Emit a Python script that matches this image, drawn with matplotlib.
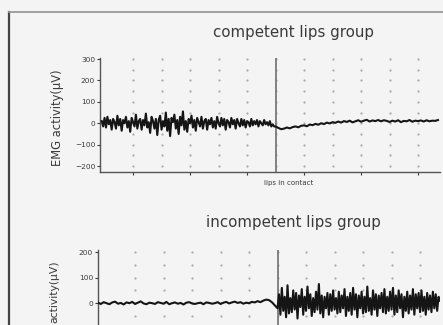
import matplotlib
matplotlib.use('Agg')
import matplotlib.pyplot as plt
from matplotlib.lines import Line2D
import numpy as np

top_pre = [10, -15, 25, -20, 30, -5, 15, -30, 20, 5,
           -25, 35, -10, 20, -35, 15, 0, 30, -20, 10,
           -40, 25, 5, -15, 40, -25, 10, 20, -30, 15,
           -10, 45, -20, 5, -45, 30, 10, -25, 20, -55,
           15, 35, -30, 10, -15, 50, -35, 20, -60, 25,
           5, 40, -25, 15, -50, 30, -10, 55, -30, 10,
           -40, 20, 0, 35, -20, 15, -35, 25, 5, -15,
           30, -25, 10, 20, -30, 15, -5, 25, -20, 10,
           -25, 30, 0, -15, 25, -10, 20, -30, 15, 5,
           -20, 25, -5, 15, -25, 20, 0, -15, 20, -10,
           15, -20, 10, 5, -15, 20, -10, 10, -5, 15,
           -15, 10, 0, -10, 15, -5, 5, -10, 10, -15,
           -5, -15]
top_post = [-15, -22, -28, -25, -20, -24, -18, -15, -19, -12,
            -10, -14, -6, -9, -3, -7, 0, -4, 3, -1,
            5, 2, 8, 3, 10, 6, 12, 4, 9, 14,
            7, 12, 16, 8, 13, 10, 15, 9, 14, 11,
            6, 12, 8, 14, 5, 11, 9, 15, 7, 12,
            10, 13, 8, 14, 9, 12, 11, 15]
bot_pre = [2, -3, 4, 0, -4, 3, 6, -2, 1, -5,
           3, 0, 5, -3, 2, 7, -1, -4, 2, 0,
           -3, 4, 1, -2, 5, -4, 0, 3, -2, 1,
           -5, 2, 4, -1, -3, 0, 2, -4, 3, 1,
           -2, 0, 4, -3, 2, 5, -1, 3, 6, 1,
           4, -2, 2, 0, 5, 3, 8, 4, 10, 14,
           12, 4, -8]
bot_post = [-20, 35, -45, 60, -30, 25, -55, 70, -40, 20,
            -35, 50, -25, 40, -60, 30, -15, 55, -45, 25,
            -30, 65, -20, 35, -50, 20, -35, 45, -25, 75,
            -40, 30, -55, 25, -20, 40, -45, 35, -30, 50,
            -25, 20, -40, 45, -35, 30, -20, 55, -50, 25,
            -30, 40, -45, 60, -25, 35, -55, 30, -20, 45,
            -40, 25, -35, 65, -30, 20, -45, 50, -25, 35,
            -50, 30, -20, 40, -35, 55, -40, 25, -30, 45,
            -25, 60, -45, 30, -35, 50, -20, 35, -55, 25,
            -30, 45, -40, 30, -25, 55, -45, 35, -20, 40,
            -35, 50, -30, 25, -45, 40, -25, 30, -35, 45,
            -20, 35, -30, 25, 10]

contact = 6.0
top_yticks = [300, 200, 100, 0, -100, -200]
bot_yticks = [200, 100, 0]

ink = '#151515'
txt = '#3a3a3a'

fig = plt.figure(figsize=(4.43, 3.25), dpi=100, facecolor='#f4f4f4')


def panel(rect, pre, pre_t0, pre_dt, post, post_dt, xlim, ylim, yticks, title, title_y):
    ax = fig.add_axes(rect)
    ax.set_facecolor('none')
    t_pre = pre_t0 + pre_dt * np.arange(len(pre))
    t_post = contact + post_dt * np.arange(len(post))
    t = np.concatenate([t_pre, t_post])
    v = np.concatenate([pre, post])
    # dotted grid: dots only at intersections
    gx, gy = np.meshgrid(np.arange(1, 12), np.arange(-200, 301, 50))
    ax.scatter(gx.ravel(), gy.ravel(), s=2.5, color='#a8a8a8', lw=0, zorder=1)
    ax.axvline(contact, color='#7a7a7a', lw=1.3, zorder=2)
    ax.plot(t, v, color=ink, lw=1.5, zorder=3)
    ax.set_xlim(*xlim)
    ax.set_ylim(*ylim)
    ax.set_yticks(yticks)
    ax.set_xticks([1, 3, 5, 7, 9, 11])
    ax.set_xticklabels([])
    ax.tick_params(axis='y', direction='out', length=2, width=0.8, pad=1.5,
                   labelsize=5.3, colors=txt)
    ax.tick_params(axis='x', direction='out', length=2, width=0.8, colors=txt)
    for s in ['top', 'right']:
        ax.spines[s].set_visible(False)
    for s in ['left', 'bottom']:
        ax.spines[s].set_color('#555555')
        ax.spines[s].set_linewidth(1.0)
    fig.text(0.662, title_y, title, ha='center', va='center', fontsize=10.8,
             color=txt)
    return ax


ax1 = panel([100 / 443, 1 - 172 / 325, 340 / 443, 114 / 325],
            top_pre, -0.1, 0.05, top_post, 0.1,
            (-0.16, 11.77), (-228, 305), top_yticks,
            'competent lips group', 1 - 32 / 325)
fig.text(289 / 443, 1 - 183 / 325, 'lips in contact',
         ha='center', va='center', fontsize=5, color=txt)
fig.text(57 / 443, 1 - 118 / 325, 'EMG activity(\u03bcV)', rotation=90,
         ha='center', va='center', fontsize=8.3, color=txt)

ax2 = panel([98 / 443, 1 - 362 / 325, 342 / 443, 112 / 325],
            bot_pre, -0.3, 0.1, bot_post, 0.05,
            (-0.3, 11.7), (-230, 208), bot_yticks,
            'incompetent lips group', 1 - 222 / 325)
# the lower label runs off the bottom of the scan; keep the visible part
fig.text(54 / 443, 2 / 325, 'activity(\u03bcV)', rotation=90,
         ha='center', va='bottom', fontsize=7.8, color=txt)

# scan page frame
fig.add_artist(Line2D([9 / 443, 9 / 443], [0, 1 - 12 / 325],
                      transform=fig.transFigure, color='#444444', lw=1.6))
fig.add_artist(Line2D([9 / 443, 1], [1 - 12 / 325, 1 - 12 / 325],
                      transform=fig.transFigure, color='#9a9a9a', lw=1.3))

fig.savefig('out.png', dpi=100, facecolor=fig.get_facecolor())
